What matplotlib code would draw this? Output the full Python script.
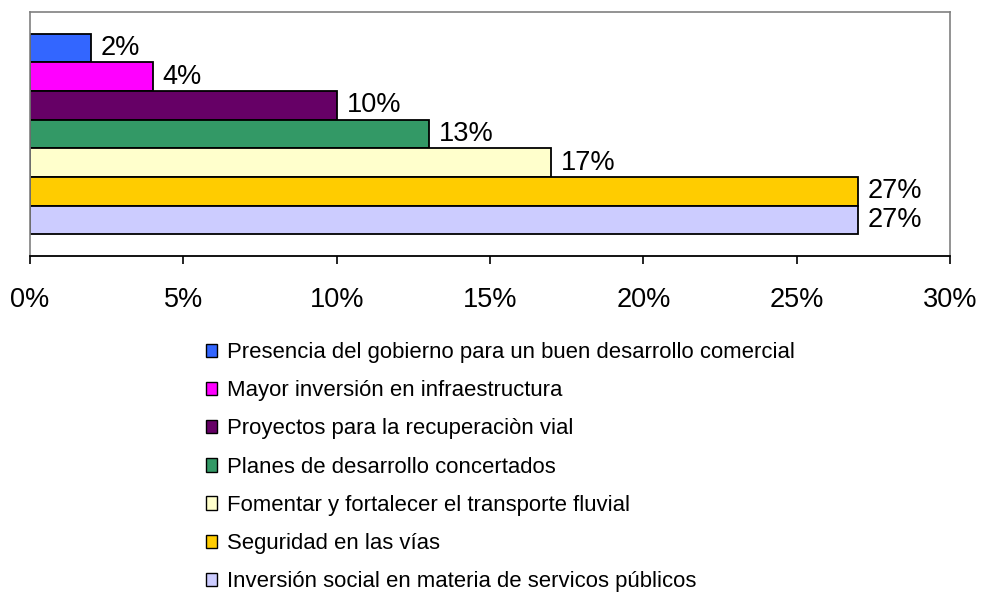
import matplotlib
matplotlib.use('Agg')
import matplotlib.pyplot as plt
from matplotlib.patches import Patch
from matplotlib.ticker import FuncFormatter

plt.rcParams['font.family'] = ['Liberation Sans', 'DejaVu Sans']

categories = ['Presencia del gobierno para un buen desarrollo comercial',
              'Mayor inversión en infraestructura',
              'Proyectos para la recuperaciòn vial',
              'Planes de desarrollo concertados',
              'Fomentar y fortalecer el transporte fluvial',
              'Seguridad en las vías',
              'Inversión social en materia de servicos públicos']
values = [2, 4, 10, 13, 17, 27, 27]
colors = ['#3366FF', '#FF00FF', '#660066', '#339966', '#FFFFCC', '#FFCC00', '#CCCCFF']
xticks = [0, 5, 10, 15, 20, 25, 30]


def main():
    fig = plt.figure(figsize=(9.82, 6.01), dpi=100)
    ax = fig.add_axes([30 / 982, 1 - 256 / 601, 920 / 982, 244 / 601])

    pos = list(range(len(values)))
    bars = ax.barh(pos, values, height=1.0, color=colors, edgecolor='black', linewidth=1.3)
    ax.bar_label(bars, labels=['%d%%' % v for v in values], padding=7, fontsize=19.5)

    ax.set_xlim(0, 30)
    ax.set_ylim(7.25, -1.25)
    ax.set_xticks(xticks)
    ax.xaxis.set_major_formatter(FuncFormatter(lambda v, p: '%d%%' % v))
    ax.tick_params(axis='x', direction='out', length=6, width=1.2, labelsize=19.5, pad=16)
    ax.set_yticks([])

    for s in ['top', 'left', 'right']:
        ax.spines[s].set_color('#808080')
        ax.spines[s].set_linewidth(1.2)
    ax.spines['bottom'].set_color('black')
    ax.spines['bottom'].set_linewidth(1.3)

    handles = [Patch(facecolor=c, edgecolor='black', linewidth=1.0) for c in colors]
    fig.legend(handles, categories, loc='upper left', bbox_to_anchor=(206 / 982, 1 - 342 / 601),
               frameon=False, fontsize=15.9, handlelength=0.5, handleheight=0.55,
               handletextpad=0.45, labelspacing=0.78, borderaxespad=0, borderpad=0)

    plt.savefig('out.png', dpi=100)


if __name__ == '__main__':
    main()
